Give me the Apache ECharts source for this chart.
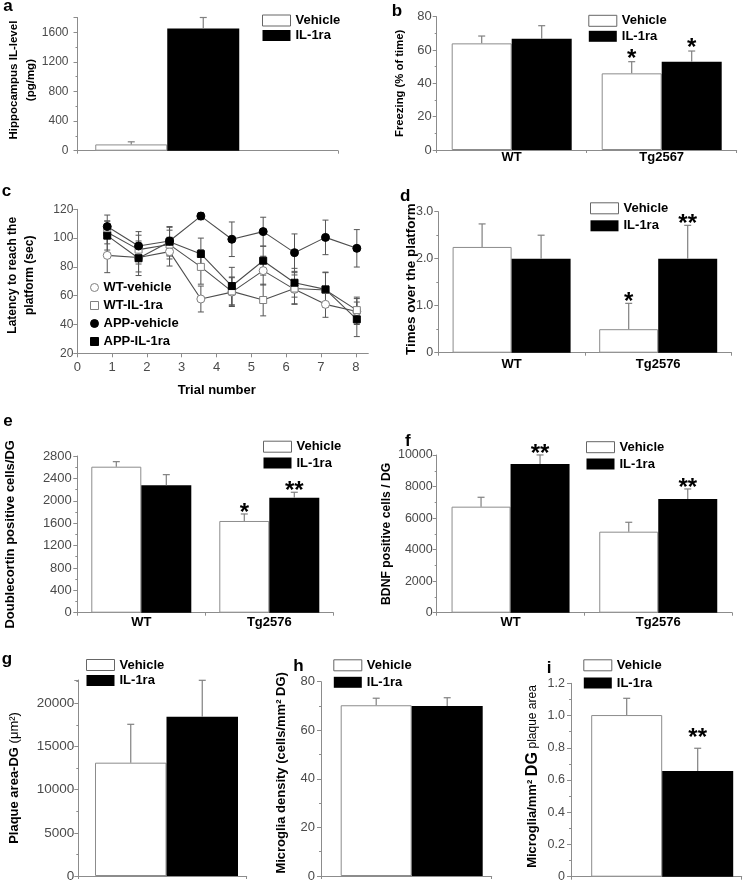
<!DOCTYPE html>
<html><head><meta charset="utf-8">
<script src="https://cdn.jsdelivr.net/npm/echarts@6/dist/echarts.min.js"></script>
<style>html,body{margin:0;padding:0;background:#fff}#c{width:748px;height:884px}</style>
</head><body><div id="c"></div>
<script>
// ---------------- data ----------------
const catsA = [''];
const catsB = ['WT', 'Tg2567'];
const catsD = ['WT', 'Tg2576'];
const catsG = [''];

const aVehicle = [85],   aVehicleSem = [35];
const aIL1ra   = [1650], aIL1raSem   = [150];

const bVehicle = [64.0, 46.0], bVehicleSem = [4.4, 7.0], bVehicleSig = ['', '*'];
const bIL1ra   = [66.8, 53.0], bIL1raSem   = [7.8, 6.4], bIL1raSig   = ['', '*'];

const cTrial = [0.86, 1.76, 2.65, 3.55, 4.44, 5.34, 6.24, 7.13, 8.03];
const cWTVehicle    = [88, 86.5, 90.6, 57.7, 62.5, 77.4, 64.4, 54, 49];
const cWTVehicleSem = [12, 10, 10, 9, 10, 10, 10, 9, 9];
const cWTIL1ra      = [104, 92, 95.5, 80, 63, 57, 65, 64, 50];
const cWTIL1raSem   = [8, 10, 10, 12, 10, 11, 11, 12, 9];
const cAPPVehicle   = [108, 94.5, 98, 115.3, 99.2, 104.5, 89.9, 100.5, 92.9];
const cAPPVehicleSem= [8, 10, 10, 2.5, 12, 10, 13, 12, 13];
const cAPPIL1ra     = [101.7, 86, 97.5, 89, 66.7, 84.3, 69, 64.4, 43.6];
const cAPPIL1raSem  = [10, 12, 10, 11, 13, 10, 10, 12, 12];

const dVehicle = [2.25, 0.5], dVehicleSem = [0.49, 0.55], dVehicleSig = ['', '*'];
const dIL1ra   = [2.0, 2.0],  dIL1raSem   = [0.5, 0.71],  dIL1raSig   = ['', '**'];

const eVehicle = [2609, 1639], eVehicleSem = [90, 125], eVehicleSig = ['', '*'];
const eIL1ra   = [2277, 2055], eIL1raSem   = [190, 97], eIL1raSig   = ['', '**'];

const fVehicle = [6724, 5138], fVehicleSem = [596, 596], fVehicleSig = ['', ''];
const fIL1ra   = [9432, 7213], fIL1raSem   = [571, 634], fIL1raSig   = ['**', '**'];

const gVehicle = [13124], gVehicleSem = [4446];
const gIL1ra   = [18450], gIL1raSem   = [4215];

const hVehicle = [70.3], hVehicleSem = [2.9];
const hIL1ra   = [70.0], hIL1raSem   = [3.4];

const iVehicle = [1.003], iVehicleSem = [0.104];
const iIL1ra   = [0.656], iIL1raSem   = [0.141], iIL1raSig = ['**'];

// ---------------- styles ----------------
const FONT = "'Liberation Sans', Arial, Helvetica, sans-serif";
const AX = '#8c8c8c', TXT = '#4a4a4a', ERR = '#808080', CAP = 3.5;
const fmt0 = v => String(v);
const fmt1 = v => v === 0 ? '0' : v.toFixed(1);

const option = {
  animation: false, backgroundColor: '#fff',
  grid: [], xAxis: [], yAxis: [], series: [], legend: [], graphic: []
};

function errSeries(gi, vals, sems, sig, off, sigOff) {
  return {
    type: 'custom', xAxisIndex: gi, yAxisIndex: gi, z: 5, silent: true,
    data: vals.map((v, i) => [i, v, sems[i]]),
    encode: { x: 0, y: 1 },
    renderItem(params, api) {
      const i = api.value(0), m = api.value(1), s = api.value(2);
      const b = api.coord([i, m]), t = api.coord([i, m + s]);
      const x = b[0] + off;
      const ch = [
        { type: 'line', shape: { x1: x, y1: b[1], x2: x, y2: t[1] }, style: { stroke: ERR, lineWidth: 1.2 } },
        { type: 'line', shape: { x1: x - CAP, y1: t[1], x2: x + CAP, y2: t[1] }, style: { stroke: ERR, lineWidth: 1.2 } }
      ];
      const sg = sig && sig[params.dataIndex];
      if (sg) ch.push({ type: 'text', style: { text: sg, x: x, y: t[1] - sigOff + 5.5, align: 'center', verticalAlign: 'middle', font: 'bold 24px ' + FONT, fill: '#000' } });
      return { type: 'group', children: ch };
    }
  };
}

function addBarPanel(p) {
  const gi = option.grid.length;
  option.grid.push({ left: p.grid[0], top: p.grid[1], width: p.grid[2], height: p.grid[3], outerBoundsMode: 'none' });
  option.xAxis.push({
    type: 'category', gridIndex: gi, data: p.cats,
    axisLine: { lineStyle: { color: AX, width: 1 } },
    axisTick: { show: true, length: 3, lineStyle: { color: AX } },
    axisLabel: { margin: p.catMargin, color: '#000', fontFamily: FONT, fontWeight: 'bold', fontSize: 13 },
    splitLine: { show: false }
  });
  option.yAxis.push({
    type: 'value', gridIndex: gi, min: 0, max: p.yMax, interval: p.yInt,
    axisLine: { show: true, lineStyle: { color: AX, width: 1 } },
    axisTick: { show: true, length: 4, lineStyle: { color: AX } },
    minorTick: { show: true, splitNumber: 2, length: 2, lineStyle: { color: AX } },
    splitLine: { show: false }, minorSplitLine: { show: false },
    axisLabel: { color: TXT, fontFamily: FONT, fontSize: p.ls, margin: p.lm, showMaxLabel: p.hideMax ? false : null, formatter: p.fmt || fmt0 },
    name: p.name, nameLocation: 'middle', nameRotate: 90, nameGap: p.nameGap, nameMoveOverlap: false,
    nameTextStyle: { color: '#000', fontFamily: FONT, fontWeight: 'bold', fontSize: p.ns || 13, lineHeight: 17, padding: [0, 0, 0, (p.shift || 0) * 2], rich: p.rich }
  });
  const items = [];
  const veh = { key: 'veh', w: p.bw };
  const il = { key: 'il', w: p.bw };
  if (p.pad && p.pad.side === 'left') items.push({ key: 'pad', w: p.pad.w });
  items.push(veh, il);
  if (p.pad && p.pad.side === 'right') items.push({ key: 'pad', w: p.pad.w });
  const W = items.reduce((s, it) => s + it.w, 0);
  let cur = -W / 2;
  items.forEach(it => { it.off = cur + it.w / 2; cur += it.w; });
  items.forEach(it => {
    if (it.key === 'pad') {
      option.series.push({ type: 'bar', name: '_pad', xAxisIndex: gi, yAxisIndex: gi, data: p.cats.map(() => 0), barWidth: it.w, barGap: '0%', silent: true, itemStyle: { color: 'rgba(0,0,0,0)' } });
    } else if (it.key === 'veh') {
      option.series.push({ type: 'bar', name: 'Vehicle', xAxisIndex: gi, yAxisIndex: gi, data: p.veh, barWidth: it.w, barGap: '0%', itemStyle: { color: '#fff', borderColor: AX, borderWidth: 1 } });
    } else {
      option.series.push({ type: 'bar', name: 'IL-1ra', xAxisIndex: gi, yAxisIndex: gi, data: p.il, barWidth: it.w, barGap: '0%', itemStyle: { color: '#000' } });
    }
  });
  option.series.push(errSeries(gi, p.veh, p.vehSem, p.vehSig, veh.off, p.sigOff));
  option.series.push(errSeries(gi, p.il, p.ilSem, p.ilSig, il.off, p.sigOff));
  option.legend.push({
    left: p.legend[0], top: p.legend[1], itemGap: p.legend[2], orient: 'vertical', padding: 0,
    itemWidth: 28, itemHeight: 11, selectedMode: false, icon: 'rect',
    textStyle: { fontFamily: FONT, fontSize: 13, fontWeight: 'bold', color: '#000', lineHeight: 13 },
    data: [
      { name: 'Vehicle', itemStyle: { color: '#fff', borderColor: '#666', borderWidth: 1 } },
      { name: 'IL-1ra', itemStyle: { color: '#000', borderWidth: 0 } }
    ]
  });
}

addBarPanel({ grid: [77.5, 17.5, 260.5, 133.2], cats: catsA, veh: aVehicle, vehSem: aVehicleSem, il: aIL1ra, ilSem: aIL1raSem,
  yMax: 1800, yInt: 400, hideMax: true, bw: 72, pad: { side: 'right', w: 81 }, catMargin: 4, ls: 12, lm: 9,
  name: 'Hippocampus IL-level\n(pg/mg)', ns: 11.5, nameGap: 38.5, shift: 4, legend: [262, 14, 2], sigOff: 7 });

addBarPanel({ grid: [436.7, 16.7, 300, 133.3], cats: catsB, veh: bVehicle, vehSem: bVehicleSem, vehSig: bVehicleSig, il: bIL1ra, ilSem: bIL1raSem, ilSig: bIL1raSig,
  yMax: 80, yInt: 20, bw: 60, catMargin: 1, ls: 13, lm: 5,
  name: 'Freezing (% of time)', ns: 11.3, nameGap: 28, shift: 0, legend: [588.3, 14.3, 2.5], sigOff: 8 });

addBarPanel({ grid: [438.3, 211.7, 293.2, 141], cats: catsD, veh: dVehicle, vehSem: dVehicleSem, vehSig: dVehicleSig, il: dIL1ra, ilSem: dIL1raSem, ilSig: dIL1raSig,
  yMax: 3, yInt: 1, bw: 59, catMargin: 5, ls: 12.5, lm: 5, fmt: fmt1,
  name: 'Times over the platform', ns: 13.4, nameGap: 18, shift: 3, legend: [590, 201.8, 4.5], sigOff: 6 });

addBarPanel({ grid: [77.3, 456, 256, 156.7], cats: catsD, veh: eVehicle, vehSem: eVehicleSem, vehSig: eVehicleSig, il: eIL1ra, ilSem: eIL1raSem, ilSig: eIL1raSig,
  yMax: 2800, yInt: 400, bw: 50, catMargin: 3, ls: 13, lm: 5.5,
  name: 'Doublecortin positive cells/DG', nameGap: 58, shift: 0, legend: [263, 440.2, 3.3], sigOff: 6 });

addBarPanel({ grid: [436.7, 455, 295.4, 157.7], cats: catsD, veh: fVehicle, vehSem: fVehicleSem, vehSig: fVehicleSig, il: fIL1ra, ilSem: fIL1raSem, ilSig: fIL1raSig,
  yMax: 10000, yInt: 2000, bw: 59, catMargin: 3, ls: 12.5, lm: 4,
  name: 'BDNF positive cells / DG', ns: 12.2, nameGap: 41.7, shift: 0, legend: [586, 440.7, 3.8], sigOff: 6.5 });

addBarPanel({ grid: [78.3, 680, 168.4, 196], cats: catsG, veh: gVehicle, vehSem: gVehicleSem, il: gIL1ra, ilSem: gIL1raSem,
  yMax: 22700, yInt: 5000, hideMax: true, bw: 71.5, pad: { side: 'left', w: 8 }, catMargin: 3, ls: 13.5, lm: 4,
  name: '{b|Plaque area-DG }{n|(μm²)}', nameGap: 55, shift: 0, legend: [86, 658.5, 2.5], sigOff: 7,
  rich: { b: { fontFamily: FONT, fontWeight: 'bold', fontSize: 13, color: '#000' }, n: { fontFamily: FONT, fontWeight: 'normal', fontSize: 13, color: '#000' } } });

addBarPanel({ grid: [321, 681.7, 170.7, 194.3], cats: catsG, veh: hVehicle, vehSem: hVehicleSem, il: hIL1ra, ilSem: hIL1raSem,
  yMax: 80, yInt: 20, bw: 71, pad: { side: 'left', w: 10.7 }, catMargin: 3, ls: 13, lm: 6,
  name: 'Microglia density (cells/mm² DG)', nameGap: 31, shift: 6, legend: [333.3, 658.8, 4], sigOff: 7 });

addBarPanel({ grid: [571, 683.3, 170.7, 193.4], cats: catsG, veh: iVehicle, vehSem: iVehicleSem, il: iIL1ra, ilSem: iIL1raSem, ilSig: iIL1raSig,
  yMax: 1.2, yInt: 0.2, bw: 71, pad: { side: 'left', w: 11.7 }, catMargin: 3, ls: 12.5, lm: 6, fmt: fmt1,
  name: '{a|Microglia/mm²} {d|DG} {p|plaque area}', nameGap: 30, shift: 3.5, legend: [583.3, 658.8, 4.7], sigOff: 15,
  rich: { a: { fontFamily: FONT, fontWeight: 'bold', fontSize: 13, color: '#000' }, d: { fontFamily: FONT, fontWeight: 'bold', fontSize: 16, color: '#000' }, p: { fontFamily: FONT, fontWeight: 'normal', fontSize: 12, color: '#000' } } });

// ---------------- panel c (line chart) ----------------
(function () {
  const gi = option.grid.length;
  option.grid.push({ left: 77.3, top: 209.3, width: 291, height: 144, outerBoundsMode: 'none' });
  option.xAxis.push({
    type: 'value', gridIndex: gi, min: 0, max: 8.36, interval: 1,
    axisLine: { lineStyle: { color: AX } }, axisTick: { length: 4, lineStyle: { color: AX } }, splitLine: { show: false },
    axisLabel: { color: TXT, fontFamily: FONT, fontSize: 13, margin: 8, showMaxLabel: false, formatter: fmt0 },
    name: 'Trial number', nameLocation: 'middle', nameGap: 31, nameMoveOverlap: false,
    nameTextStyle: { color: '#000', fontFamily: FONT, fontWeight: 'bold', fontSize: 13, padding: [0, 12, 0, 0] }
  });
  option.yAxis.push({
    type: 'value', gridIndex: gi, min: 20, max: 120, interval: 20,
    axisLine: { show: true, lineStyle: { color: AX } }, axisTick: { show: true, length: 4, lineStyle: { color: AX } }, splitLine: { show: false },
    axisLabel: { color: TXT, fontFamily: FONT, fontSize: 12, margin: 4, formatter: fmt0 },
    name: 'Latency to reach the\nplatform (sec)', nameLocation: 'middle', nameRotate: 90, nameGap: 38.8, nameMoveOverlap: false,
    nameTextStyle: { color: '#000', fontFamily: FONT, fontWeight: 'bold', fontSize: 12, lineHeight: 17, padding: [0, 0, 0, 12] }
  });
  const defs = [
    { name: 'WT-vehicle', vals: cWTVehicle, sem: cWTVehicleSem, symbol: 'circle', size: 8, fill: '#fff', border: '#808080' },
    { name: 'WT-IL-1ra', vals: cWTIL1ra, sem: cWTIL1raSem, symbol: 'rect', size: 7, fill: '#fff', border: '#808080' },
    { name: 'APP-vehicle', vals: cAPPVehicle, sem: cAPPVehicleSem, symbol: 'circle', size: 8, fill: '#000', border: '#000' },
    { name: 'APP-IL-1ra', vals: cAPPIL1ra, sem: cAPPIL1raSem, symbol: 'rect', size: 7, fill: '#000', border: '#000' }
  ];
  defs.forEach(d => {
    option.series.push({
      type: 'custom', xAxisIndex: gi, yAxisIndex: gi, z: 1, silent: true,
      data: cTrial.map((x, i) => [x, d.vals[i], d.sem[i]]), encode: { x: 0, y: 1 },
      renderItem(params, api) {
        const x = api.value(0), m = api.value(1), s = api.value(2);
        const lo = api.coord([x, m - s]), hi = api.coord([x, m + s]);
        const st = { stroke: '#555', lineWidth: 1 };
        return { type: 'group', children: [
          { type: 'line', shape: { x1: lo[0], y1: lo[1], x2: hi[0], y2: hi[1] }, style: st },
          { type: 'line', shape: { x1: lo[0] - 3, y1: lo[1], x2: lo[0] + 3, y2: lo[1] }, style: st },
          { type: 'line', shape: { x1: hi[0] - 3, y1: hi[1], x2: hi[0] + 3, y2: hi[1] }, style: st }
        ] };
      }
    });
  });
  defs.forEach(d => {
    option.series.push({
      type: 'line', name: d.name, xAxisIndex: gi, yAxisIndex: gi, z: 3,
      data: cTrial.map((x, i) => [x, d.vals[i]]),
      symbol: d.symbol, symbolSize: d.size, showAllSymbol: true,
      lineStyle: { color: '#4d4d4d', width: 1.1 },
      itemStyle: { color: d.fill, borderColor: d.border, borderWidth: 1, opacity: 1 }
    });
  });
  option.legend.push({
    left: 90, top: 281, orient: 'vertical', itemGap: 5, padding: 0, itemWidth: 8, itemHeight: 8, selectedMode: false,
    textStyle: { fontFamily: FONT, fontSize: 13, fontWeight: 'bold', color: '#000', lineHeight: 13 },
    data: defs.map(d => ({ name: d.name, icon: d.symbol, itemStyle: { color: d.fill, borderColor: d.border, borderWidth: 1 } }))
  });
})();

// panel letters
[['a', 3.3, 11.7], ['b', 391.7, 16.7], ['c', 1.7, 196.7], ['d', 400, 201.7], ['e', 3.3, 426.7],
 ['f', 405, 446.7], ['g', 1.7, 663.8], ['h', 293.3, 671.7], ['i', 546.7, 673.3]].forEach(([t, x, y]) => {
  option.graphic.push({ type: 'text', x: x, y: y + 3.6, style: { text: t, font: 'bold 17px ' + FONT, fill: '#000', verticalAlign: 'bottom' } });
});

const chart = echarts.init(document.getElementById('c'), null, { renderer: 'canvas' });
chart.setOption(option);
</script>
</body></html>
